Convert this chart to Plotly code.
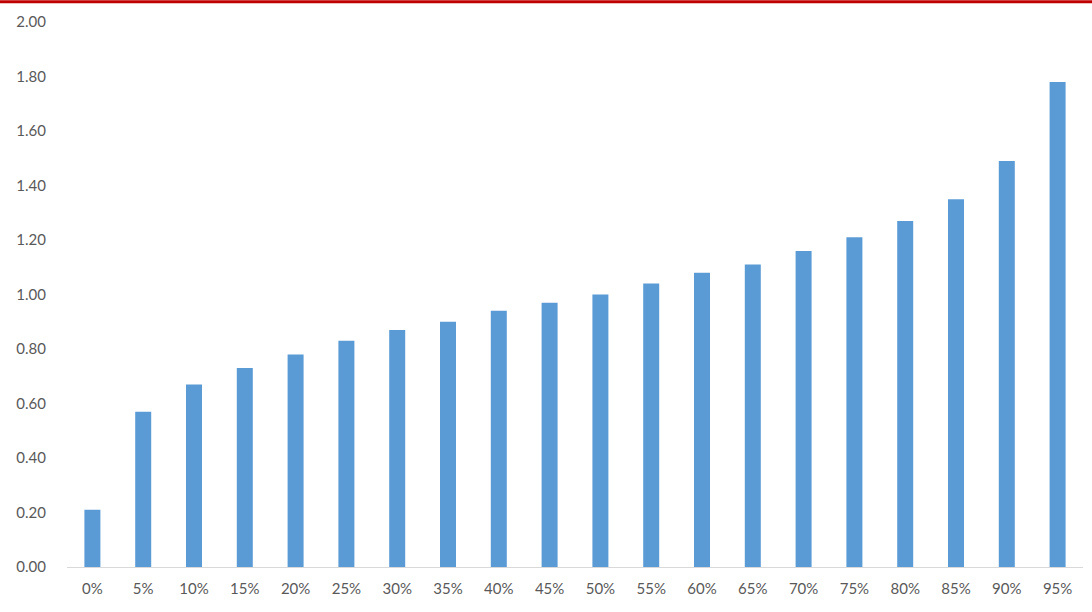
import plotly.graph_objects as go

# categories and values
categories = ["0%", "5%", "10%", "15%", "20%", "25%", "30%", "35%", "40%", "45%",
              "50%", "55%", "60%", "65%", "70%", "75%", "80%", "85%", "90%", "95%"]
values = [0.21, 0.57, 0.67, 0.73, 0.78, 0.83, 0.87, 0.90, 0.94, 0.97,
          1.00, 1.04, 1.08, 1.11, 1.16, 1.21, 1.27, 1.35, 1.49, 1.78]
y_ticks = [0.0, 0.2, 0.4, 0.6, 0.8, 1.0, 1.2, 1.4, 1.6, 1.8, 2.0]

fig = go.Figure()
fig.add_trace(go.Bar(x=categories, y=values, marker_color="#5B9BD5",
                     marker_line_width=0))

fig.update_layout(
    width=1092, height=612,
    margin=dict(l=67, r=9, t=22, b=45),
    paper_bgcolor="white", plot_bgcolor="white",
    bargap=0.685,
    showlegend=False,
    font=dict(family="Lato, Open Sans, sans-serif", size=15, color="#595959"),
)
fig.update_xaxes(showline=True, linecolor="#D9D9D9", linewidth=1,
                 showgrid=False, ticks="", ticklabelstandoff=8,
                 tickfont=dict(size=15))
fig.update_yaxes(range=[0, 2], tickvals=y_ticks, tickformat=".2f",
                 showgrid=False, zeroline=False, showline=False,
                 ticks="", ticklabelstandoff=20, tickfont=dict(size=15))

# red rule across the top of the picture
fig.add_shape(type="line", xref="paper", yref="paper",
              x0=-0.07, x1=1.01, y0=1.037, y1=1.037,
              line=dict(color="#C00000", width=3))

# drop the browser's default body margin so the figure sits at 0,0
fig.write_html("out.html", config={"displayModeBar": False},
               post_script="document.body.style.margin='0';")
